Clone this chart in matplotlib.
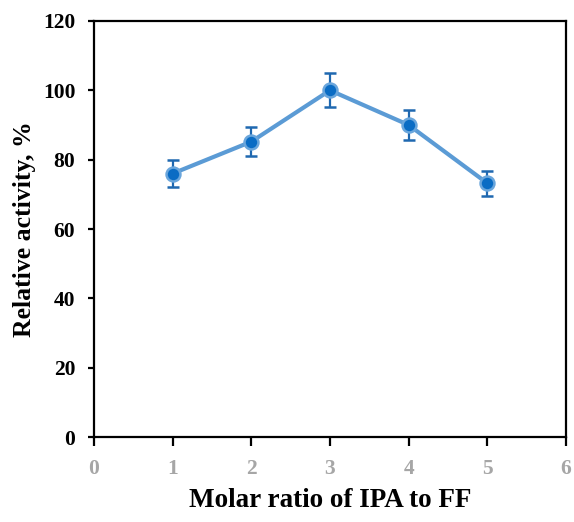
import matplotlib
matplotlib.use("Agg")
import matplotlib.pyplot as plt

ratio = [1, 2, 3, 4, 5]
activity = [76.0, 85.2, 100.0, 90.0, 73.2]
err = [3.8, 4.2, 4.9, 4.3, 3.6]
x_ticks = [0, 1, 2, 3, 4, 5, 6]
y_ticks = [0, 20, 40, 60, 80, 100, 120]

plt.rcParams["font.family"] = ["Liberation Serif", "DejaVu Serif"]

fig = plt.figure(figsize=(5.74, 5.22), dpi=100)
ax = fig.add_axes([0.1638, 0.1628, 0.8222, 0.797])

ax.plot(ratio, activity, color="#5b9bd5", lw=3.0, zorder=2)
ax.errorbar(ratio, activity, yerr=err, fmt="none", ecolor="#1f68b0",
            elinewidth=1.6, capsize=4, capthick=1.8, zorder=3)
ax.plot(ratio, activity, "o", ms=10, mfc="#0a6cc4", mec="#6aa6dc",
        mew=1.8, zorder=4, ls="none")

ax.set_xlim(0, 6)
ax.set_ylim(0, 120)
ax.set_xticks(x_ticks)
ax.set_yticks(y_ticks)
for s in ax.spines.values():
    s.set_linewidth(1.6)
    s.set_color("black")
ax.tick_params(axis="x", direction="out", length=6.5, width=1.6, color="black",
               labelsize=15.5, labelcolor="#a6a6a6", pad=9)
ax.tick_params(axis="y", direction="out", length=4.5, width=1.6, color="black",
               labelsize=15.5, labelcolor="black", pad=9)
for lbl in ax.get_xticklabels() + ax.get_yticklabels():
    lbl.set_fontweight("bold")

ax.set_xlabel("Molar ratio of IPA to FF", fontsize=19.5, fontweight="bold", labelpad=7)
ax.set_ylabel("Relative activity, %", fontsize=18.5, fontweight="bold", labelpad=5)

fig.savefig("out.png", dpi=100)
